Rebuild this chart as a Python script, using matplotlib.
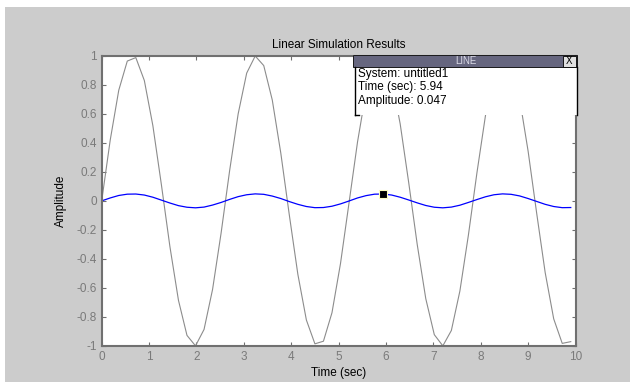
import matplotlib
matplotlib.use("Agg")
import matplotlib.pyplot as plt
from matplotlib.patches import Rectangle
from matplotlib.lines import Line2D

# time vector of the lsim run (step 0.18 s)
t = [0.00, 0.18, 0.36, 0.54, 0.72, 0.90, 1.08, 1.26, 1.44, 1.62,
     1.80, 1.98, 2.16, 2.34, 2.52, 2.70, 2.88, 3.06, 3.24, 3.42,
     3.60, 3.78, 3.96, 4.14, 4.32, 4.50, 4.68, 4.86, 5.04, 5.22,
     5.40, 5.58, 5.76, 5.94, 6.12, 6.30, 6.48, 6.66, 6.84, 7.02,
     7.20, 7.38, 7.56, 7.74, 7.92, 8.10, 8.28, 8.46, 8.64, 8.82,
     9.00, 9.18, 9.36, 9.54, 9.72, 9.90]

# input signal (grey)
u = [0.000, 0.419, 0.762, 0.963, 0.987, 0.829, 0.518, 0.111, -0.316, -0.685,
     -0.927, -0.999, -0.886, -0.610, -0.222, 0.208, 0.599, 0.880, 0.998, 0.932,
     0.695, 0.329, -0.098, -0.506, -0.821, -0.985, -0.967, -0.771, -0.432, -0.014,
     0.407, 0.753, 0.959, 0.989, 0.837, 0.530, 0.125, -0.302, -0.674, -0.922,
     -0.999, -0.893, -0.621, -0.235, 0.194, 0.588, 0.873, 0.997, 0.937, 0.705,
     0.342, -0.084, -0.494, -0.813, -0.982, -0.970]

# system response (blue)
y = [0.000, 0.020, 0.037, 0.046, 0.047, 0.040, 0.025, 0.005, -0.015, -0.033,
     -0.044, -0.048, -0.043, -0.029, -0.011, 0.010, 0.029, 0.042, 0.048, 0.045,
     0.033, 0.016, -0.005, -0.024, -0.039, -0.047, -0.046, -0.037, -0.021, -0.001,
     0.020, 0.036, 0.046, 0.047, 0.040, 0.025, 0.006, -0.014, -0.032, -0.044,
     -0.048, -0.043, -0.030, -0.011, 0.009, 0.028, 0.042, 0.048, 0.045, 0.034,
     0.016, -0.004, -0.024, -0.039, -0.047, -0.046]

xticks = [0, 1, 2, 3, 4, 5, 6, 7, 8, 9, 10]
yticks = [-1, -0.8, -0.6, -0.4, -0.2, 0, 0.2, 0.4, 0.6, 0.8, 1]
ytick_labels = ['-1', '-0.8', '-0.6', '-0.4', '-0.2', '0', '0.2', '0.4', '0.6', '0.8', '1']

tip_system = 'untitled1'
tip_time = 5.94
tip_amp = 0.047

plt.rcParams['font.family'] = ['Liberation Sans', 'DejaVu Sans']

W, H = 630, 382
fig = plt.figure(figsize=(W / 100, H / 100), dpi=100, facecolor='white')


def box(x0, y0, x1, y1):
    # pixel box (top-left origin) -> figure fraction rect
    return (x0 / W, 1 - y1 / H), (x1 - x0) / W, (y1 - y0) / H


# grey MATLAB figure background (screenshot has a thin white margin top/left)
xy, w, h = box(5, 7, W, H)
fig.add_artist(Rectangle(xy, w, h, transform=fig.transFigure,
                         facecolor='#cccccc', edgecolor='none', zorder=-10))

ax = fig.add_axes([101.7 / W, 1 - 346 / H, (575.5 - 101.7) / W, (346 - 55.7) / H])
ax.set_facecolor('white')

ax.plot(t, u, color='#8c8c8c', linewidth=0.8)
ax.plot(t, y, color='#0000ff', linewidth=0.9)
ax.plot([tip_time], [tip_amp], marker='s', markersize=6, color='black',
        markeredgecolor='#ffffc0', markeredgewidth=0.8, zorder=5)

ax.set_xlim(0, 10)
ax.set_ylim(-1, 1)
ax.set_xticks(xticks)
ax.set_yticks(yticks)
ax.set_yticklabels(ytick_labels)
ax.tick_params(direction='in', top=True, right=True, length=3, width=0.8,
               color='#707070', labelcolor='#7a7a7a', labelsize=8.5, pad=3.5)
for s in ax.spines.values():
    s.set_color('#707070')
    s.set_linewidth(1.5)

ax.set_title('Linear Simulation Results', fontsize=8.5, pad=5.5)
ax.set_xlabel('Time (sec)', fontsize=8.5, labelpad=3)
ax.set_ylabel('Amplitude', fontsize=8.5, labelpad=7)

# data tip window
xy, w, h = box(353, 55, 577, 115)
fig.add_artist(Rectangle(xy, w, h, transform=fig.transFigure,
                         facecolor='white', edgecolor='none', zorder=20))
xy, w, h = box(353, 55, 577, 67)
fig.add_artist(Rectangle(xy, w, h, transform=fig.transFigure,
                         facecolor='#66667f', edgecolor='black', linewidth=0.6, zorder=21))
fig.text(466 / W, 1 - 61 / H, 'LINE', color='#dcdce8', fontsize=7,
         ha='center', va='center', zorder=22)
xy, w, h = box(563, 56, 576, 66.5)
fig.add_artist(Rectangle(xy, w, h, transform=fig.transFigure,
                         facecolor='#e0e0e0', edgecolor='black', linewidth=0.6, zorder=22))
fig.text(569.5 / W, 1 - 61.3 / H, 'X', color='black', fontsize=7,
         ha='center', va='center', zorder=23)
for xs, ys in [((355, 355), (67, 114.5)), ((577, 577), (67, 115)), ((355, 359), (114.5, 114.5))]:
    fig.add_artist(Line2D([v / W for v in xs], [1 - v / H for v in ys],
                          transform=fig.transFigure, color='black', linewidth=1.0, zorder=21))

tip_lines = ['System: ' + tip_system,
             'Time (sec): %.2f' % tip_time,
             'Amplitude: %.3f' % tip_amp]
for i, line in enumerate(tip_lines):
    fig.text(358.5 / W, 1 - (74 + 13.3 * i) / H, line, fontsize=8.5,
             color='black', ha='left', va='center', zorder=22)

fig.savefig('out.png', dpi=100)
